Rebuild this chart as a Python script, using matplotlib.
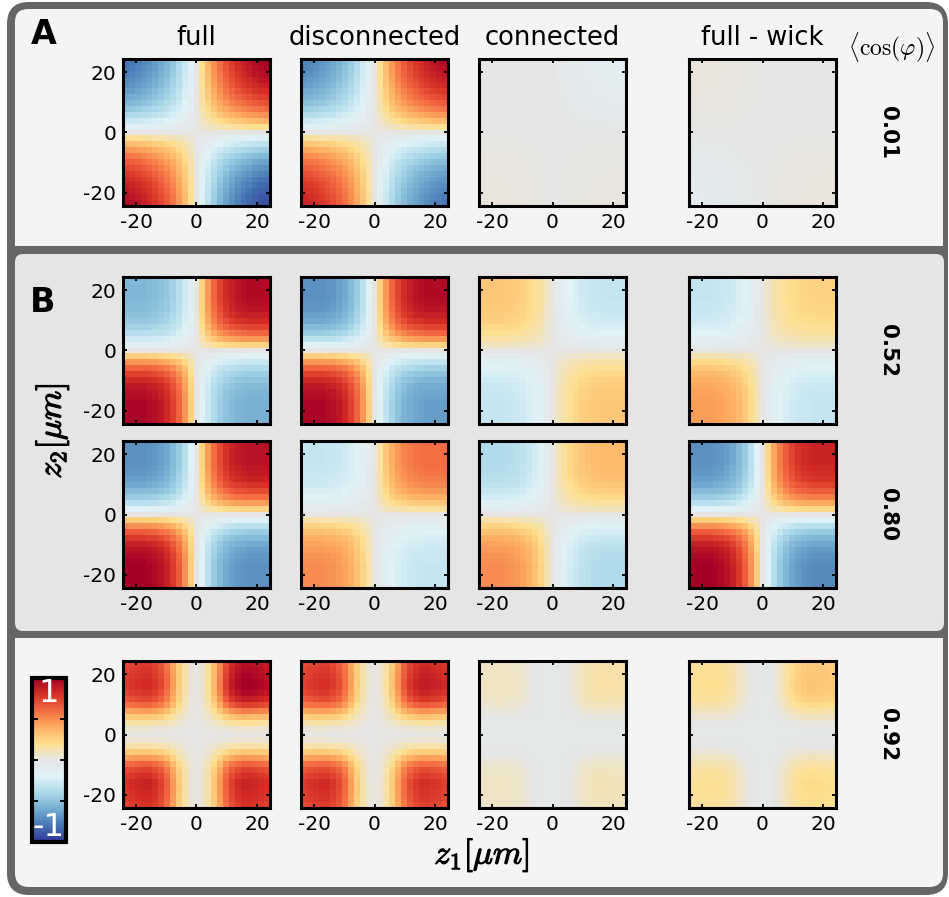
import numpy as np
import matplotlib
matplotlib.use("Agg")
import matplotlib.pyplot as plt
import matplotlib.patheffects as pe
from matplotlib.colors import LinearSegmentedColormap
from matplotlib.patches import FancyBboxPatch, Rectangle

plt.rcParams["mathtext.fontset"] = "cm"
plt.rcParams["axes.unicode_minus"] = False

W, H = 949, 897

COLUMNS = ["full", "disconnected", "connected", "full - wick"]
COS_PHI = ["0.01", "0.52", "0.80", "0.92"]
Z_TICKS = [-20, 0, 20]
Z_EDGE = 24.3
N_CELLS = 25

# half profiles |z| = 0, 2, ..., 24
PROFILE_A = [0.0, 0.2, 0.36, 0.49, 0.6, 0.69, 0.76, 0.82, 0.87, 0.91, 0.95, 0.98, 1.0]
PROFILE_B = [0.0, 0.27, 0.49, 0.65, 0.77, 0.86, 0.92, 0.96, 0.98, 1.0, 1.0, 1.0, 1.0]
PROFILE_C = [0.0, 0.05, 0.18, 0.35, 0.55, 0.75, 0.88, 0.95, 1.0, 1.0, 0.98, 0.96, 0.93]

# quadrant amplitudes per panel: (top-left, top-right, bottom-left, bottom-right)
QUAD_A = [(-0.8, 1.0, 0.95, -0.92), (-0.75, 0.95, 0.85, -0.78),
          (0.0, -0.13, 0.03, 0.02), (0.03, -0.02, -0.09, 0.03)]
QUAD_B1 = [(-0.55, 0.95, 0.97, -0.58), (-0.7, 0.95, 0.97, -0.65),
           (0.3, -0.3, -0.3, 0.3), (-0.3, 0.25, 0.45, -0.3)]
QUAD_B2 = [(-0.7, 0.92, 1.0, -0.7), (-0.3, 0.6, 0.5, -0.3),
           (-0.38, 0.35, 0.5, -0.38), (-0.7, 0.85, 1.0, -0.72)]
QUAD_C = [(0.82, 1.0, 0.85, 0.85), (0.8, 0.88, 0.82, 0.8),
          (0.14, 0.2, 0.13, 0.16), (0.24, 0.35, 0.23, 0.26)]
BASE_A = [0.0, 0.0, 0.0, 0.0]
BASE_B1 = [0.0, 0.0, 0.0, 0.0]
BASE_B2 = [0.0, 0.0, 0.0, 0.0]
BASE_C = [0.0, 0.0, -0.05, -0.04]

ROWS = [(PROFILE_A, QUAD_A, BASE_A), (PROFILE_B, QUAD_B1, BASE_B1),
        (PROFILE_B, QUAD_B2, BASE_B2), (PROFILE_C, QUAD_C, BASE_C)]
ROW_XLABELS = [True, False, True, True]

CMAP_COLORS = ["#313695", "#4575b4", "#74add1", "#abd9e9", "#e0f3f8", "#e6e6e6",
               "#fee090", "#fdae61", "#f46d43", "#d73027", "#a50026"]
cmap = LinearSegmentedColormap.from_list("rdbu_gray", CMAP_COLORS)

COL_X = [123, 301, 479, 689]
ROW_Y = [59, 277, 441, 661]
SIZE = 147


def field(profile, quad, base):
    half = np.asarray(profile, float)
    s = np.concatenate([half[::-1], half[1:]])
    sign = np.sign(np.arange(N_CELLS) - N_CELLS // 2)
    z1s = sign[None, :]
    z2s = sign[:, None]
    tl, tr, bl, br = quad
    q = np.where(z2s > 0, np.where(z1s < 0, tl, tr), np.where(z1s < 0, bl, br))
    return base + q * np.outer(s, s)


def px_axes(fig, x, y, w, h):
    return fig.add_axes([x / W, 1 - (y + h) / H, w / W, h / H])


def ftext(fig, x, y, s, **kw):
    return fig.text(x / W, 1 - y / H, s, ha="center", va="center", **kw)


fig = plt.figure(figsize=(W / 100, H / 100), dpi=100)
fig.patch.set_facecolor("white")

# background frames, drawn in pixel coordinates
bg = fig.add_axes([0, 0, 1, 1], zorder=-5)
bg.set_xlim(0, W)
bg.set_ylim(H, 0)
bg.axis("off")
bg.add_patch(FancyBboxPatch((7, 2), 941, 893, boxstyle="round,pad=0,rounding_size=22",
                            fc="#666666", ec="none"))
bg.add_patch(FancyBboxPatch((15, 9), 928, 260, boxstyle="round,pad=0,rounding_size=13",
                            fc="#f4f4f4", ec="none"))
bg.add_patch(FancyBboxPatch((15, 610), 928, 277, boxstyle="round,pad=0,rounding_size=14",
                            fc="#f4f4f4", ec="none"))
bg.add_patch(Rectangle((15, 246), 929, 392, fc="#666666", ec="none"))
bg.add_patch(FancyBboxPatch((15, 254), 929, 377, boxstyle="round,pad=0,rounding_size=8",
                            fc="#e5e5e5", ec="none"))

im = None
for r, (profile, quads, bases) in enumerate(ROWS):
    for c in range(4):
        ax = px_axes(fig, COL_X[c], ROW_Y[r], SIZE, SIZE)
        data = field(profile, quads[c], bases[c])
        im = ax.imshow(data, cmap=cmap, vmin=-1, vmax=1, origin="lower",
                       extent=(-Z_EDGE, Z_EDGE, -Z_EDGE, Z_EDGE),
                       interpolation="nearest", aspect="auto")
        ax.set_xticks(Z_TICKS)
        ax.set_yticks(Z_TICKS)
        ax.tick_params(direction="in", top=True, right=True, length=3, width=1.3,
                       labelsize=14.5, pad=5, colors="black")
        if c != 0:
            ax.tick_params(labelleft=False)
        if not ROW_XLABELS[r]:
            ax.tick_params(labelbottom=False)
        for sp in ax.spines.values():
            sp.set_linewidth(2.2)

# column titles
for c, name in enumerate(COLUMNS):
    ftext(fig, COL_X[c] + SIZE / 2, 38, name, fontsize=18.5)

ftext(fig, 892, 47, r"$\langle\cos(\varphi)\rangle$", fontsize=17)
for r, val in enumerate(COS_PHI):
    ftext(fig, 888, ROW_Y[r] + SIZE / 2, val, fontsize=15.5, fontweight="bold", rotation=-90)

ftext(fig, 44, 35, "A", fontsize=24, fontweight="bold")
ftext(fig, 43, 303, "B", fontsize=24, fontweight="bold")

thick = [pe.withStroke(linewidth=0.8, foreground="black")]
ftext(fig, 52, 431, r"$z_2[\mu m]$", fontsize=24, rotation=90, path_effects=thick)
ftext(fig, 482, 855, r"$z_1[\mu m]$", fontsize=24, path_effects=thick)

# colorbar
cax = px_axes(fig, 32, 678, 34, 164)
cb = fig.colorbar(im, cax=cax, ticks=[-0.5, 0, 0.5])
cb.outline.set_linewidth(3)
cax.tick_params(direction="in", left=True, right=True, labelleft=False, labelright=False,
                length=4, width=1.3, colors="black")
ftext(fig, 49, 693, "1", fontsize=23, color="white")
ftext(fig, 49, 827, "-1", fontsize=23, color="white")

fig.savefig("out.png", dpi=100)
